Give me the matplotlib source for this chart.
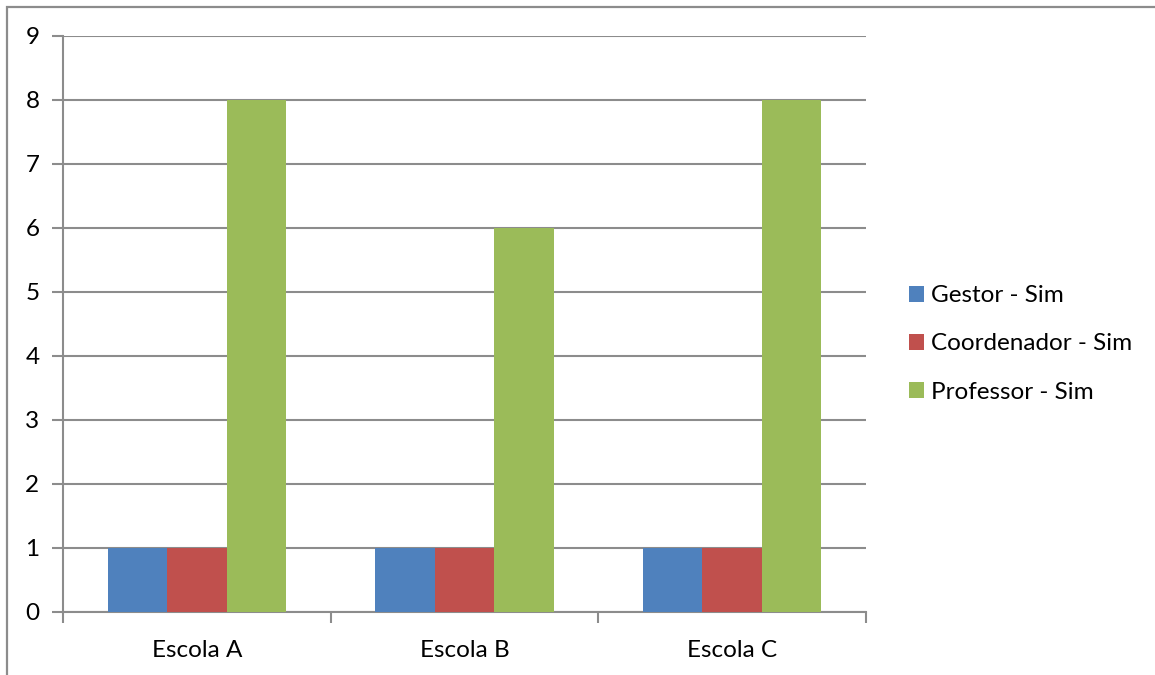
import numpy as np
import matplotlib.pyplot as plt
from matplotlib.patches import Rectangle

escolas = ["Escola A", "Escola B", "Escola C"]
series = ["Gestor - Sim", "Coordenador - Sim", "Professor - Sim"]
gestor = [1, 1, 1]
coordenador = [1, 1, 1]
professor = [8, 6, 8]
cores = ["#4F81BD", "#C0504D", "#9BBB59"]

plt.rcParams['font.family'] = ['Lato', 'DejaVu Sans']

W, H = 1155, 675
fig = plt.figure(figsize=(W / 100, H / 100), dpi=100)

# outer frame of the chart object (runs off the right and bottom edges)
fig.patches.append(Rectangle((7 / W, -0.05), 1.1, 1 - 7 / H + 0.05,
                             transform=fig.transFigure, fill=False,
                             edgecolor="#8C8C8C", linewidth=1.6))

ax = fig.add_axes([63 / W, 1 - 612 / H, (866 - 63) / W, (612 - 36) / H])

x = np.arange(len(escolas))
largura = 1 / 4.5
for i, (nome, vals) in enumerate(zip(series, [gestor, coordenador, professor])):
    ax.bar(x + (i - 1) * largura, vals, largura, color=cores[i], label=nome,
           zorder=3, linewidth=0)

ax.set_xlim(-0.5, len(escolas) - 0.5)
ax.set_ylim(0, 9)
ax.set_yticks(range(10))
ax.grid(axis="y", color="#8C8C8C", linewidth=1.5, zorder=0)

ax.set_xticks(x)
ax.set_xticklabels(escolas)
ax.set_xticks(np.arange(len(escolas) + 1) - 0.5, minor=True)
ax.tick_params(axis="x", which="major", length=0, pad=20)
ax.tick_params(axis="x", which="minor", length=8, width=1.5, color="#8C8C8C")
ax.tick_params(axis="y", length=8, width=1.5, color="#8C8C8C", pad=9)
ax.tick_params(labelsize=17.5)

for s in ["top", "right"]:
    ax.spines[s].set_visible(False)
for s in ["left", "bottom"]:
    ax.spines[s].set_color("#8C8C8C")
    ax.spines[s].set_linewidth(1.5)

leg = fig.legend(loc="center left", bbox_to_anchor=(909 / W, 1 - 344 / H),
                 frameon=False, fontsize=17.5, handlelength=0.62, handleheight=0.62,
                 handletextpad=0.3, labelspacing=1.12, borderaxespad=0,
                 borderpad=0)

fig.savefig("out.png", dpi=100)
